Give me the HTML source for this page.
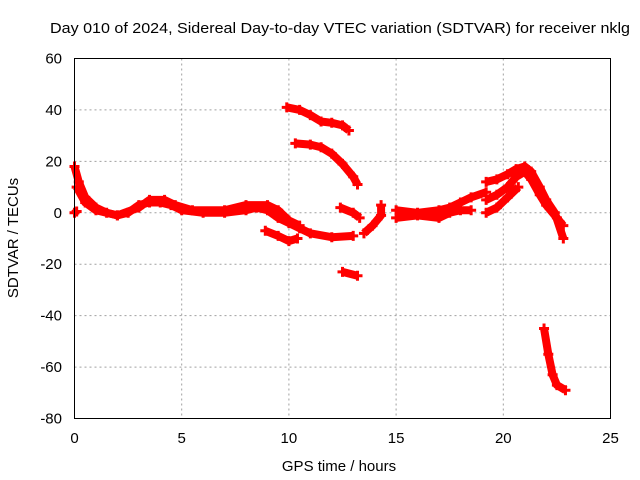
<!DOCTYPE html>
<html><head><meta charset="utf-8"><style>
body{margin:0;background:#fff}
svg{display:block;font-family:"Liberation Sans",sans-serif}
</style></head><body>
<svg id="c" width="640" height="480">
<text x="50" y="33" font-size="15" textLength="580" lengthAdjust="spacingAndGlyphs">Day 010 of 2024, Sidereal Day-to-day VTEC variation (SDTVAR) for receiver nklg</text>
<text x="339" y="471" font-size="15" text-anchor="middle">GPS time / hours</text>
<text transform="translate(18,238) rotate(-90)" font-size="15" text-anchor="middle">SDTVAR / TECUs</text>
<g id="grid"></g><g id="marks"></g>
<rect x="74.5" y="58.5" width="536" height="360" fill="none" stroke="#000"/>
</svg>
<script>
const xTicks=[0,5,10,15,20,25];
const yTicks=[60,40,20,0,-20,-40,-60,-80];
const trackA=[[0,18],[0.2,12],[0.5,6],[1,2],[1.5,0],[2,-1],[2.5,0],[3,3],[3.5,4],[4,4],[4.5,3],[5,1],[6,0],[7,0],[8,1],[8.5,2],[9,1],[9.5,-2],[10,-4],[10.5,-6],[11,-8],[12,-9.5],[13,-9]];
const trackB=[[0.1,10],[0.5,4],[1,1],[2,-1],[3,2],[3.5,5],[4.2,5],[4.7,3],[5.5,1],[7,1],[8,3],[9,3],[9.5,1],[10,-3],[10.5,-5]];
const trackC=[[8.9,-7],[9.5,-9],[10,-11],[10.4,-10]];
const trackD=[[9.9,41],[10.5,40],[11,38],[11.5,35.5],[12,35],[12.5,34],[12.8,32]];
const trackE=[[10.3,27],[11,26.5],[11.5,25.5],[12,23],[12.5,19],[13,14],[13.2,11]];
const trackF=[[12.4,2],[13,0],[13.3,-2]];
const trackG=[[12.5,-23],[13.2,-24.5]];
const trackH=[[13.5,-8],[13.9,-5],[14.3,-1],[14.3,3]];
const trackI=[[15,1],[16,0],[17,1],[17.5,2],[18,4],[18.5,6],[19.2,8]];
const trackJ=[[15,-2],[16,-1],[17,-2],[17.5,0],[18,1],[18.5,1]];
const trackK=[[19.2,5],[19.7,7],[20.2,10],[20.6,14],[21,16],[21.3,13],[21.7,7],[22,3],[22.5,-2],[22.8,-5]];
const trackL=[[19.2,12],[19.7,13],[20.2,15],[20.6,17],[21,18],[21.3,16],[21.7,10],[22,5],[22.4,0],[22.8,-10]];
const trackM=[[19.2,0],[19.7,2],[20.2,6],[20.7,10]];
const trackN=[[21.9,-45],[22.1,-55],[22.3,-63],[22.5,-67],[22.9,-69]];
const trackP=[[0,0],[0.1,0.5]];
const tracks=[trackA,trackB,trackC,trackD,trackE,trackF,trackG,trackH,trackI,trackJ,trackK,trackL,trackM,trackN,trackP];
const NS='http://www.w3.org/2000/svg';
const X=v=>74.5+v*536/25, Y=v=>58.5+(60-v)*360/140;
const grid=document.getElementById('grid'), marks=document.getElementById('marks');
function mk(t,a,p){const e=document.createElementNS(NS,t);for(const k in a)e.setAttribute(k,a[k]);p.appendChild(e);return e;}
xTicks.forEach(t=>{
 const l=mk('line',{x1:X(t),x2:X(t),y1:58.5,y2:418.5,stroke:'#a0a0a0','stroke-dasharray':'2,3'},grid);
 
 
 const s=mk('text',{x:X(t),y:443,'font-size':15,'text-anchor':'middle'},grid);s.textContent=t;
 
 
});
yTicks.forEach(t=>{
 const l=mk('line',{x1:74.5,x2:610.5,y1:Y(t),y2:Y(t),stroke:'#a0a0a0','stroke-dasharray':'2,3'},grid);
 
 
 const s=mk('text',{x:62,y:Y(t)+5,'font-size':15,'text-anchor':'end'},grid);s.textContent=t;
 
 
});
tracks.forEach(tr=>{
 const pl=mk('polyline',{points:tr.map(p=>X(p[0])+','+Y(p[1])).join(' '),fill:'none',stroke:'#ff0000','stroke-width':8,'stroke-linejoin':'round'},marks);
 
 
 tr.forEach(p=>{
  const m=mk('path',{d:`M${X(p[0])-5},${Y(p[1])}h10M${X(p[0])},${Y(p[1])-5}v10`,stroke:'#ff0000','stroke-width':3},marks);
  
  
 });
});
</script>
</body></html>
